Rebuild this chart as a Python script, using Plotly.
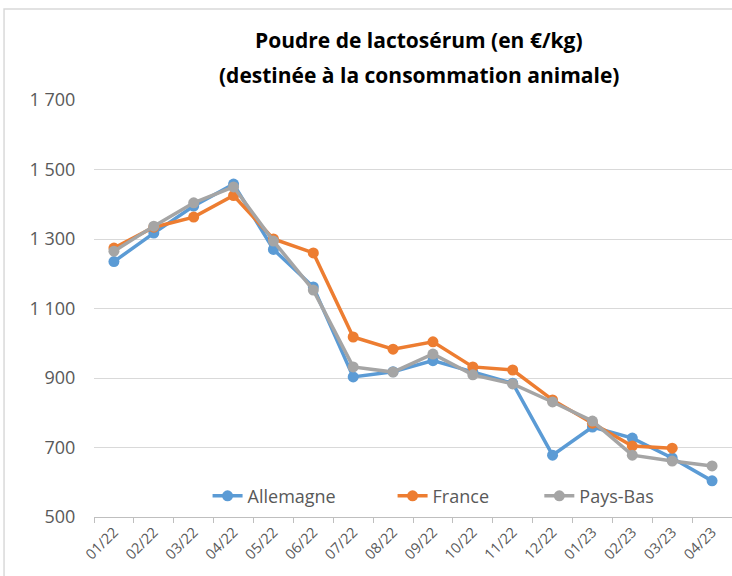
import plotly.graph_objects as go

months = ["01/22", "02/22", "03/22", "04/22", "05/22", "06/22", "07/22", "08/22",
          "09/22", "10/22", "11/22", "12/22", "01/23", "02/23", "03/23", "04/23"]
allemagne = [1235, 1317, 1395, 1458, 1270, 1162, 903, 918, 950, 917, 885, 678, 759, 727, 670, 604]
france = [1274, 1334, 1363, 1425, 1300, 1260, 1018, 983, 1004, 932, 923, 837, 770, 704, 698, None]
pays_bas = [1265, 1337, 1404, 1450, 1294, 1153, 932, 917, 969, 909, 883, 831, 776, 678, 661, 647]

title_lines = ["Poudre de lactosérum (en €/kg)", "(destinée à la consommation animale)"]

series = [("Allemagne", allemagne, "#5B9BD5", "legend", 0.178),
          ("France", france, "#ED7D31", "legend2", 0.468),
          ("Pays-Bas", pays_bas, "#A5A5A5", "legend3", 0.698)]

fig = go.Figure()
legends = {}
for name, vals, col, leg, lx in series:
    fig.add_trace(go.Scatter(x=months, y=vals, name=name, mode="lines+markers",
                             line=dict(color=col, width=3.5),
                             marker=dict(color=col, size=11),
                             connectgaps=False, legend=leg))
    legends[leg] = dict(orientation="h", x=lx, xanchor="left", y=0.05, yanchor="middle",
                        font=dict(size=18, color="#595959"), bgcolor="rgba(0,0,0,0)")

annotations = []
for i, t in enumerate(title_lines):
    annotations.append(dict(text="<b>" + t + "</b>", xref="paper", x=0.509, xanchor="center",
                            yref="paper", y=(517 - 40 - 35 * i) / 417, yanchor="middle",
                            showarrow=False, font=dict(family="Open Sans", size=21, color="black")))

fig.update_layout(
    width=732, height=576,
    margin=dict(l=94, r=0, t=100, b=59, autoexpand=False),
    paper_bgcolor="white", plot_bgcolor="white",
    separators=", ",
    font=dict(family="Open Sans", color="#595959"),
    showlegend=True,
    annotations=annotations,
    shapes=[dict(type="rect", xref="paper", yref="paper", x0=-0.141, x1=1.2, y0=-0.3, y1=1.218,
                 line=dict(color="#d9d9d9", width=1.5), layer="below")],
    **legends,
)
fig.update_yaxes(range=[500, 1700], tick0=500, dtick=200, tickformat=",d", separatethousands=True,
                 showgrid=True, gridcolor="#d9d9d9", gridwidth=1, zeroline=False,
                 showline=False, tickfont=dict(size=18, color="#595959"), ticks="outside",
                 ticklen=14, tickcolor="rgba(0,0,0,0)", automargin=False)
fig.update_xaxes(type="category", range=[-0.5, 15.5], tickangle=-45, tickson="boundaries",
                 ticks="outside", ticklen=5, tickcolor="#bfbfbf", showline=True,
                 linecolor="#bfbfbf", linewidth=1, showgrid=False, automargin=False,
                 tickfont=dict(size=14.5, color="#595959"))

fig.write_html("out.html", config={"displayModeBar": False},
               post_script="document.body.style.margin='0';")
